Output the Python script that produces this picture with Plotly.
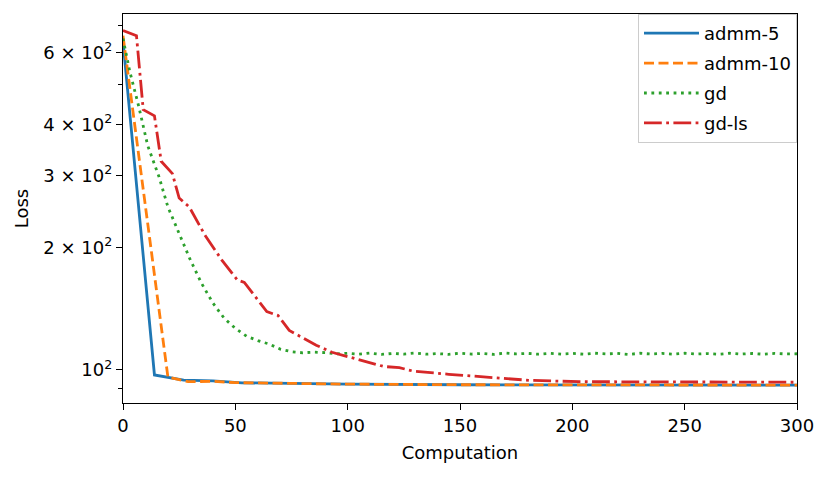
import plotly.graph_objects as go

# ---- data ----
admm5_x = [0, 14, 27, 40, 53, 80, 100, 150, 200, 300]
admm5_y = [640, 97.2, 94.4, 94.0, 93.0, 92.6, 92.3, 92.0, 91.9, 91.8]

admm10_x = [0, 20, 29, 40, 50, 80, 100, 150, 200, 300]
admm10_y = [660, 96.0, 93.6, 93.8, 93.1, 92.6, 92.3, 92.0, 91.9, 91.8]

gd_x = [0, 3, 7, 11, 16, 20, 25, 30, 35, 40, 45, 50, 55, 60, 65, 70, 75, 80,
        85, 90, 95, 100, 105, 110, 115, 120, 125, 130, 135, 140, 145, 150,
        155, 160, 165, 170, 175, 180, 185, 190, 195, 200, 205, 210, 215, 220,
        225, 230, 235, 240, 245, 250, 255, 260, 265, 270, 275, 280, 285, 290,
        295, 300]
gd_y = [650, 540, 443, 355, 298, 251, 216, 186, 163, 146, 134, 126.5, 121, 118,
        115.8, 112.5, 110.9, 110.2, 110.6, 110.3, 109.5, 109.9, 109.3, 110.0,
        109.2, 109.8, 109.4, 110.0, 109.3, 109.7, 109.2, 109.9, 109.4, 109.8,
        109.2, 110.0, 109.5, 109.8, 109.3, 109.9, 109.4, 109.8, 109.3, 109.9,
        109.5, 109.8, 109.2, 109.9, 109.4, 109.8, 109.3, 109.9, 109.4, 109.7,
        109.3, 109.9, 109.4, 109.8, 109.3, 109.8, 109.5, 109.6]

gdls_x = [0, 6, 9, 14, 17, 22, 25, 29.5, 36.5, 44, 51, 54, 64, 69, 74, 86, 93,
          97, 103, 111, 116, 123, 129, 145, 159, 171, 181, 203, 300]
gdls_y = [680, 660, 435, 420, 325, 303, 264, 251, 214, 186, 166, 164, 139, 136,
          125, 115, 110.5, 109, 106.8, 104, 102, 101.3, 99.4, 97.6, 96.3, 95.0,
          94.3, 93.6, 93.3]

y_ticks = [100, 200, 300, 400, 600]
y_tick_labels = ["10<sup>2</sup>", "2 × 10<sup>2</sup>", "3 × 10<sup>2</sup>",
                 "4 × 10<sup>2</sup>", "6 × 10<sup>2</sup>"]
y_minor = [90, 500, 700]
x_ticks = [0, 50, 100, 150, 200, 250, 300]

FONT = "DejaVu Sans"
LW = 2.8

fig = go.Figure()
fig.add_trace(go.Scatter(x=admm5_x, y=admm5_y, mode="lines", name="admm-5",
                         legendgroup="a",
                         line=dict(color="#1f77b4", width=LW)))
fig.add_trace(go.Scatter(x=admm10_x, y=admm10_y, mode="lines", name="admm-10",
                         legendgroup="b",
                         line=dict(color="#ff7f0e", width=LW, dash="10px,4.5px")))
fig.add_trace(go.Scatter(x=gd_x, y=gd_y, mode="lines", name="gd",
                         legendgroup="c",
                         line=dict(color="#2ca02c", width=LW, dash="2.8px,4.6px")))
fig.add_trace(go.Scatter(x=gdls_x, y=gdls_y, mode="lines", name="gd-ls",
                         legendgroup="d",
                         line=dict(color="#d62728", width=LW,
                                   dash="17.8px,4.4px,2.8px,4.4px")))

# page body adds an 8px offset, so margins are shifted to compensate
fig.update_layout(
    width=830, height=477,
    margin=dict(l=115, r=41, t=6, b=82),
    paper_bgcolor="white", plot_bgcolor="white",
    font=dict(family=FONT, size=18, color="black"),
    legend=dict(x=1, y=1, xanchor="right", yanchor="top",
                bgcolor="rgba(255,255,255,0.8)", bordercolor="#cccccc",
                borderwidth=1, font=dict(size=18), itemwidth=55,
                tracegroupgap=3.5, entrywidth=133, entrywidthmode="pixels"),
    showlegend=True,
)

fig.update_xaxes(
    range=[0, 300], tickmode="array", tickvals=x_ticks,
    showgrid=False, zeroline=False,
    showline=True, linecolor="black", linewidth=1.3, mirror=True,
    ticks="outside", ticklen=6, tickwidth=1.3, tickcolor="black",
    title=dict(text="Computation", standoff=11, font=dict(size=18)),
)
fig.update_yaxes(
    type="log", range=[1.919, 2.873], tickmode="array",
    tickvals=y_ticks, ticktext=y_tick_labels,
    showgrid=False, zeroline=False,
    showline=True, linecolor="black", linewidth=1.3, mirror=True,
    ticks="outside", ticklen=6, tickwidth=1.3, tickcolor="black",
    minor=dict(tickmode="array", tickvals=y_minor, ticks="outside",
               ticklen=4, tickwidth=1, tickcolor="black", showgrid=False),
    title=dict(text="Loss", standoff=10, font=dict(size=18)),
)

fig.write_html("out.html")
